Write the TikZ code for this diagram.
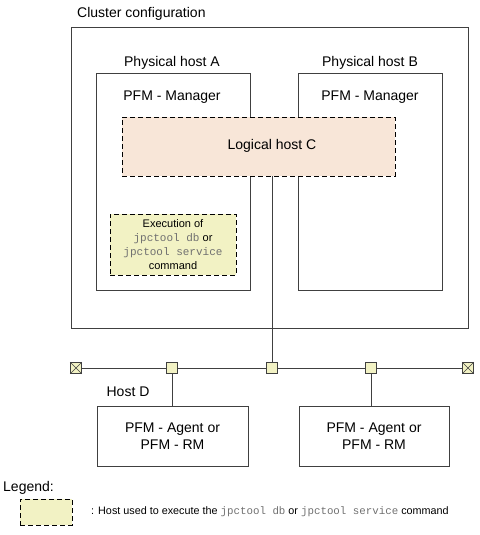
\documentclass[tikz,border=0pt]{standalone}
\usepackage{fontspec}
\setmainfont{Liberation Sans}
\setmonofont{Liberation Mono}
\definecolor{peach}{HTML}{F8E6D8}
\definecolor{paleyel}{HTML}{F2F2C4}
\definecolor{linegray}{HTML}{404040}
\definecolor{monogray}{HTML}{707070}
\newcommand{\jc}[1]{{\ttfamily\color{monogray}#1}}
\begin{document}
\begin{tikzpicture}[x=1pt,y=-1pt,
  box/.style={draw=linegray,line width=0.8pt},
  dbox/.style={draw=black,line width=1pt,dash pattern=on 5pt off 3pt},
  lbl/.style={font=\fontsize{14}{16}\selectfont,inner sep=0pt},
  sq/.style={draw=linegray,fill=paleyel,line width=0.7pt,minimum size=11pt,inner sep=0pt},
  wire/.style={draw=linegray,line width=0.8pt}]
\useasboundingbox (0,0) rectangle (479,535);
% cluster
\draw[box] (71,27) rectangle (468,328);
\node[lbl,anchor=west] (cl) at (77,14) {Cluster configuration};
% physical hosts
\draw[box] (96,73) rectangle (250,290);
\node[lbl] (pa) at (172,63) {Physical host A};
\node[lbl] (ma) at (172,97) {PFM - Manager};
\draw[box] (298,73) rectangle (442,290);
\node[lbl] (pb) at (370,63) {Physical host B};
\node[lbl] (mb) at (370,97) {PFM - Manager};
% logical host C
\node[dbox,fill=peach,minimum width=273pt,minimum height=59pt,inner sep=0pt] (lc) at (258.5,146.5) {};
\node[lbl] at (272,146) {Logical host C};
% execution box
\node[dbox,fill=paleyel,minimum width=126pt,minimum height=61pt,inner sep=0pt,align=center,font=\fontsize{11}{14}\selectfont] (ex) at (173,244.5)
  {Execution of\\\jc{jpctool db} or\\\jc{jpctool service}\\command};
% network
\node[sq] (s0) at (76,368) {};
\draw[linegray,line width=0.6pt] (s0.north west) -- (s0.south east) (s0.north east) -- (s0.south west);
\node[sq] (s4) at (468,368) {};
\draw[linegray,line width=0.6pt] (s4.north west) -- (s4.south east) (s4.north east) -- (s4.south west);
\node[sq] (s1) at (172,368) {};
\node[sq] (s2) at (272,368) {};
\node[sq] (s3) at (371,368) {};
\draw[wire] (s0) -- (s1) -- (s2) -- (s3) -- (s4);
\coordinate (cbot) at (272,176);
\draw[wire] (cbot) -- (s2);
% agents
\node[box,minimum width=151pt,minimum height=60pt,inner sep=0pt,align=center,font=\fontsize{14}{17}\selectfont] (ag1) at (172.5,436) {PFM - Agent or\\PFM - RM};
\node[box,minimum width=150pt,minimum height=60pt,inner sep=0pt,align=center,font=\fontsize{14}{17}\selectfont] (ag2) at (374,436) {PFM - Agent or\\PFM - RM};
\draw[wire] (s1) -- (s1|-ag1.north);
\draw[wire] (s3) -- (s3|-ag2.north);
\node[lbl] (hd) at (128,392) {Host D};
% legend
\node[lbl,anchor=west] (lg) at (3,488) {Legend:};
\node[dbox,fill=paleyel,minimum width=52pt,minimum height=26pt,inner sep=0pt] (lgbox) at (46,512) {};
\node[anchor=west,inner sep=0pt,font=\fontsize{10.8}{13}\selectfont] (lgt) at (91,512)
  {: Host used to execute the \jc{jpctool db} or \jc{jpctool service} command};
\end{tikzpicture}
\end{document}
